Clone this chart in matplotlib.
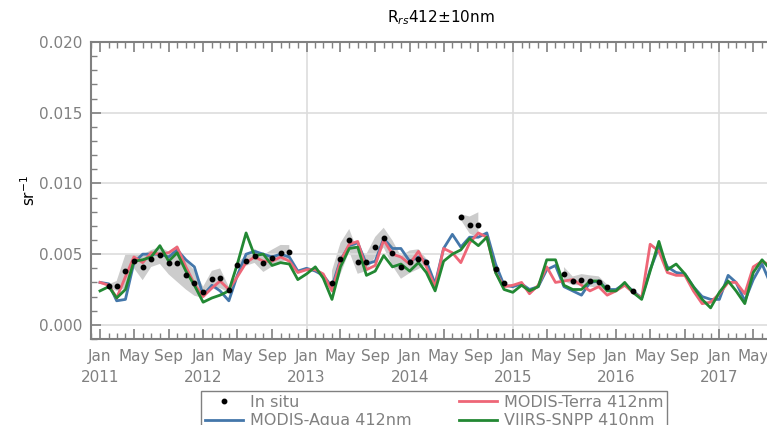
import numpy as np
import pandas as pd
import matplotlib
matplotlib.use("Agg")
import matplotlib.pyplot as plt
import matplotlib.dates as mdates
from matplotlib.ticker import MultipleLocator, FuncFormatter
from matplotlib.lines import Line2D
from datetime import datetime

nan = np.nan
months = pd.date_range("2011-01-01", periods=79, freq="MS")

# in situ monthly mean Rrs(412) and its spread (nan = no match-up)
insitu = [nan,
          0.00277, 0.00275, 0.00378, 0.00451, 0.00406, 0.00469, 0.00491, 0.00437,
          0.00434, 0.00350, 0.00296, 0.00230, 0.00322, 0.00329, 0.00249, 0.00422,
          0.00453, 0.00488, 0.00434, 0.00472, 0.00505, 0.00514,
          nan, nan, nan, nan,
          0.00293, 0.00469, 0.00598, 0.00441, 0.00441, 0.00552, 0.00617, 0.00507,
          0.00406, 0.00446, 0.00465, 0.00448,
          nan, nan, nan,
          0.00763, 0.00706, 0.00706,
          nan,
          0.00394, 0.00293,
          nan, nan, nan, nan, nan, nan,
          0.00359, 0.00312, 0.00319, 0.00310, 0.00303, 0.00265,
          nan, nan,
          0.00240,
          nan, nan, nan, nan, nan, nan, nan, nan, nan, nan, nan, nan, nan, nan, nan, nan]

insitu_std = [nan,
              0.0001, 0.00035, 0.0012, 0.0005, 0.0009, 0.0006, 0.0006, 0.0008,
              0.0013, 0.0010, 0.0009, 0.0004, 0.0006, 0.0007, 0.0002, 0.0002,
              0.00035, 0.0005, 0.0006, 0.0006, 0.0006, 0.0005,
              nan, nan, nan, nan,
              0.0009, 0.0011, 0.0008, 0.0008, 0.0006, 0.0007, 0.0007, 0.0009,
              0.0008, 0.0008, 0.0007, 0.0002,
              nan, nan, nan,
              0.0002, 0.0006, 0.0009,
              nan,
              0.0, 0.0,
              nan, nan, nan, nan, nan, nan,
              0.0005, 0.0003, 0.0004, 0.0004, 0.0004, 0.0002,
              nan, nan,
              0.0,
              nan, nan, nan, nan, nan, nan, nan, nan, nan, nan, nan, nan, nan, nan, nan, nan]

aqua = [0.0030, 0.0029, 0.0017, 0.0018, 0.0044, 0.0050, 0.0050, 0.0050, 0.0048, 0.0053,
        0.0046, 0.0041, 0.0021, 0.0028, 0.0024, 0.0017, 0.0035, 0.0050, 0.0052, 0.0050,
        0.0048, 0.0050, 0.0048, 0.0038, 0.0040, 0.0038, 0.0035, 0.0027, 0.0046, 0.0056,
        0.0058, 0.0043, 0.0045, 0.0061, 0.0054, 0.0054, 0.0045, 0.0048, 0.0045, 0.0029,
        0.0054, 0.0064, 0.0055, 0.0062, 0.0062, 0.0065, 0.0043, 0.0028, 0.0027, 0.0029,
        0.0025, 0.0027, 0.0039, 0.0042, 0.0027, 0.0024, 0.0021, 0.0030, 0.0031, 0.0025,
        0.0025, 0.0029, 0.0024, 0.0019, 0.0039, 0.0055, 0.0041, 0.0037, 0.0036, 0.0027,
        0.0020, 0.0018, 0.0018, 0.0035, 0.0030, 0.0017, 0.0032, 0.0043, 0.0029]

terra = [0.0030, 0.0028, 0.0019, 0.0034, 0.0048, 0.0044, 0.0051, 0.0050, 0.0051, 0.0055,
         0.0041, 0.0029, 0.0020, 0.0026, 0.0031, 0.0025, 0.0034, 0.0044, 0.0048, 0.0045,
         0.0045, 0.0048, 0.0045, 0.0037, 0.0039, 0.0039, 0.0036, 0.0024, 0.0045, 0.0057,
         0.0059, 0.0039, 0.0042, 0.0060, 0.0050, 0.0048, 0.0043, 0.0052, 0.0041, 0.0027,
         0.0054, 0.0051, 0.0044, 0.0058, 0.0065, 0.0062, 0.0037, 0.0027, 0.0028, 0.0030,
         0.0022, 0.0028, 0.0041, 0.0030, 0.0031, 0.0032, 0.0028, 0.0024, 0.0027, 0.0021,
         0.0024, 0.0028, 0.0023, 0.0019, 0.0057, 0.0052, 0.0037, 0.0035, 0.0035, 0.0024,
         0.0015, 0.0016, 0.0022, 0.0030, 0.0030, 0.0022, 0.0041, 0.0045, 0.0042]

viirs = [0.0024, 0.0027, 0.0019, 0.0025, 0.0045, 0.0046, 0.0048, 0.0056, 0.0045, 0.0051,
         0.0038, 0.0028, 0.0016, 0.0019, 0.0021, 0.0024, 0.0043, 0.0065, 0.0049, 0.0050,
         0.0042, 0.0044, 0.0043, 0.0032, 0.0036, 0.0041, 0.0033, 0.0018, 0.0041, 0.0054,
         0.0055, 0.0035, 0.0038, 0.0049, 0.0041, 0.0043, 0.0038, 0.0044, 0.0037, 0.0024,
         0.0045, 0.0050, 0.0053, 0.0061, 0.0056, 0.0062, 0.0037, 0.0025, 0.0023, 0.0028,
         0.0024, 0.0027, 0.0046, 0.0046, 0.0028, 0.0025, 0.0025, 0.0031, 0.0031, 0.0024,
         0.0024, 0.0030, 0.0023, 0.0018, 0.0038, 0.0059, 0.0039, 0.0043, 0.0036, 0.0027,
         0.0018, 0.0012, 0.0023, 0.0031, 0.0024, 0.0015, 0.0037, 0.0046, 0.0039]

grid_years = [2013, 2015, 2017]

gray = "#808080"
insitu = np.array(insitu)
insitu_std = np.array(insitu_std)

fig = plt.figure(figsize=(7.67, 4.25), dpi=100)
ax = fig.add_axes([0.1186, 0.2024, 1.03 - 0.1186, 0.901 - 0.2024])

ax.fill_between(months, insitu - insitu_std, insitu + insitu_std,
                color="#cccccc", lw=0, zorder=1)
ax.plot(months, aqua, color="#4477aa", lw=2, zorder=3)
ax.plot(months, terra, color="#ee6677", lw=2, zorder=3)
ax.plot(months, viirs, color="#228833", lw=2, zorder=4)
ax.plot(months, insitu, "o", color="black", ms=3.2, zorder=5)

ax.set_xlim(datetime(2010, 11, 30), datetime(2017, 9, 8))
ax.set_ylim(-0.001, 0.020)

ax.xaxis.set_major_locator(mdates.MonthLocator(bymonth=[1, 5, 9]))
ax.xaxis.set_minor_locator(mdates.MonthLocator())


def month_label(x, pos):
    d = mdates.num2date(x)
    if d.month == 1:
        return "Jan\n%d" % d.year
    return d.strftime("%b")


ax.xaxis.set_major_formatter(FuncFormatter(month_label))
ax.yaxis.set_major_locator(MultipleLocator(0.005))
ax.yaxis.set_minor_locator(MultipleLocator(0.001))
ax.yaxis.set_major_formatter(FuncFormatter(lambda v, p: "%.3f" % v))

ax.grid(axis="y", color="#dddddd", lw=1.2, zorder=0)
for yr in grid_years:
    ax.axvline(datetime(yr, 1, 1), color="#dddddd", lw=1.2, zorder=0)

ax.tick_params(which="both", direction="in", top=True, right=True,
               color=gray, labelcolor=gray, labelsize=11)
ax.tick_params(which="major", length=7, width=1.2)
ax.tick_params(which="minor", length=4, width=1.0)
ax.tick_params(axis="y", pad=6)
ax.tick_params(axis="x", pad=7)
for sp in ax.spines.values():
    sp.set_color(gray)
    sp.set_linewidth(1.5)

fig.canvas.draw()
for lab in ax.get_xticklabels():
    lab.set_linespacing(1.5)

ax.set_title("R$_{rs}$412\u00b110nm", fontsize=11, pad=14)
ax.set_ylabel("sr$^{-1}$", fontsize=11, labelpad=1)

handles = [
    Line2D([], [], ls="none", marker="o", color="black", ms=3.2),
    Line2D([], [], color="#4477aa", lw=2),
    Line2D([], [], color="#ee6677", lw=2),
    Line2D([], [], color="#228833", lw=2),
]
labels = ["In situ", "MODIS-Aqua 412nm", "MODIS-Terra 412nm", "VIIRS-SNPP 410nm"]
leg = fig.legend(handles, labels, loc="upper center", bbox_to_anchor=(0.566, 0.08),
                 ncol=2, fontsize=11.5, fancybox=False, framealpha=1,
                 edgecolor=gray, handlelength=2.4, handletextpad=0.4,
                 columnspacing=3.0, labelspacing=0.2, borderpad=0.25,
                 borderaxespad=0)
for t in leg.get_texts():
    t.set_color(gray)

fig.savefig("out.png", dpi=100)
